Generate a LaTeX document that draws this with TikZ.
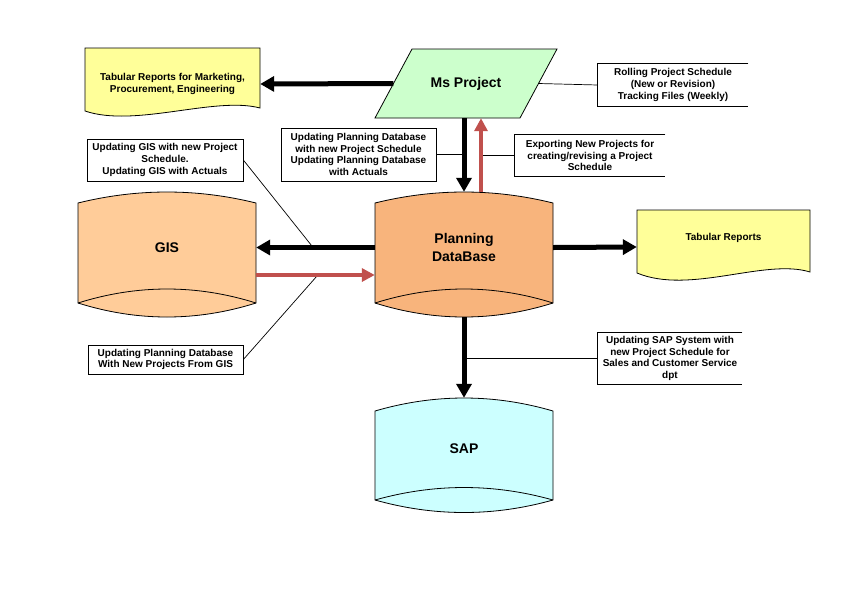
\documentclass[tikz,border=0pt]{standalone}
\usepackage{fontspec}
\setmainfont{Liberation Sans}
\usetikzlibrary{arrows.meta,calc}
\definecolor{gisfill}{HTML}{FFCC99}
\definecolor{pdbfill}{HTML}{F8B47C}
\definecolor{sapfill}{HTML}{CCFFFF}
\definecolor{docfill}{HTML}{FFFF99}
\definecolor{mspfill}{HTML}{CCFFCC}
\definecolor{redarrow}{HTML}{C0504D}
\newcommand\cylpath[7]{%
  \path[shapeline, fill=#7] (#1,#4) .. controls ({#1+(#2-#1)/3},{#4-4/3*(#4-#3)}) and ({#2-(#2-#1)/3},{#4-4/3*(#4-#3)}) .. (#2,#4)
    -- (#2,#5) .. controls ({#2-(#2-#1)/3},{#5+4/3*#6}) and ({#1+(#2-#1)/3},{#5+4/3*#6}) .. (#1,#5) -- cycle;
  \draw[shapeline] (#1,#5) .. controls ({#1+(#2-#1)/3},{#5-4/3*#6}) and ({#2-(#2-#1)/3},{#5-4/3*#6}) .. (#2,#5);
}
\begin{document}
\begin{tikzpicture}[x=1pt,y=-1pt,
  font=\bfseries\fontsize{10}{11.7}\selectfont,
  shapeline/.style={draw=black, line width=0.8pt},
  body/.style={draw=none, inner sep=0pt, align=center},
  bigtext/.style={font=\bfseries\fontsize{14}{18}\selectfont},
  callout/.style={inner sep=0pt, align=center, line width=0.7pt},
  leader/.style={line width=0.7pt},
  blackarrow/.style={draw=black, line width=5pt, -{Triangle[length=14pt,width=15pt]}},
  redarr/.style={draw=redarrow, line width=4pt, -{Triangle[length=13pt,width=13pt]}}]
\useasboundingbox[fill=white] (0,0) rectangle (842,595);

% shapes
\path[shapeline, fill=docfill] (85,48) -- (260,48) -- (260,108) .. controls (215,96) and (135,128) .. (85,111) -- cycle;
\path[shapeline, fill=mspfill] (412,49) -- (557,49) -- (520,118) -- (375,118) -- cycle;
\path[shapeline, fill=docfill] (637,210) -- (810,210) -- (810,272) .. controls (765,258) and (690,295) .. (637,273) -- cycle;
\cylpath{78}{256}{192}{203}{303}{14}{gisfill}
\cylpath{375}{553}{192}{203}{303}{14}{pdbfill}
\cylpath{375}{553}{398}{411}{500}{12.5}{sapfill}

% nodes
\node[body, minimum width=175pt, minimum height=72pt] (rep1) at (172.5,84) {Tabular Reports for Marketing,\\Procurement, Engineering};
\node[body, bigtext, minimum width=145pt, minimum height=69pt] (msp) at (466,83.5) {Ms Project};
\node[body, bigtext, minimum width=178pt, minimum height=111pt] (gis) at (167,247.5) {GIS};
\node[body, bigtext, minimum width=178pt, minimum height=111pt] (pdb) at (464,247.5) {Planning\\DataBase};
\node[body, bigtext, minimum width=178pt, minimum height=102pt] (sap) at (464,449) {SAP};
\node[body, minimum width=173pt, minimum height=74pt] (rep2) at (723.5,247) {};
\node[body] (rep2t) at (723.5,238) {Tabular Reports};

\node[callout, minimum width=150pt, minimum height=42pt] (c1) at (673,85) {Rolling Project Schedule\\(New or Revision)\\Tracking Files (Weekly)};
\node[callout, draw=black, minimum width=155pt, minimum height=53pt] (c2) at (358.5,154.5) {Updating Planning Database\\with new Project Schedule\\Updating Planning Database\\with Actuals};
\node[callout, minimum width=150pt, minimum height=41pt] (c3) at (590,155.5) {Exporting New Projects for\\creating/revising a Project\\Schedule};
\node[callout, draw=black, minimum width=156pt, minimum height=42pt] (c4) at (165,160) {Updating GIS with new Project\\Schedule.\\Updating GIS with Actuals};
\node[callout, draw=black, minimum width=155pt, minimum height=29pt] (c5) at (165.5,359.5) {Updating Planning Database\\With New Projects From GIS};
\node[callout, minimum width=144pt, minimum height=51pt] (c6) at (670,358.5) {Updating SAP System with\\new Project Schedule for\\Sales and Customer Service\\dpt};

% open-sided callout outlines
\draw[leader] (c1.north east) -- (c1.north west) -- (c1.south west) -- (c1.south east);
\draw[leader] (c3.north east) -- (c3.north west) -- (c3.south west) -- (c3.south east);
\draw[leader] (c6.north east) -- (c6.north west) -- (c6.south west) -- (c6.south east);

% leaders
\draw[leader] (msp.east) -- (c1.west);
\draw[leader] (c2.east) -- (c2.east -| pdb.north);
\draw[leader] ([xshift=17pt]pdb.north |- c3.west) -- (c3.west);
\draw[leader] (c4.east) -- ($(gis.east)!0.48!(pdb.west)$);
\draw[leader] (c5.east) -- ($([yshift=-27.5pt]gis.east)!0.52!([yshift=-27.5pt]pdb.west)$);
\draw[leader] (c6.west -| sap.north) -- (c6.west);

% arrows
\draw[blackarrow] (msp.west) -- (rep1.east);
\draw[blackarrow] (pdb.north |- msp.south) -- (pdb.north);
\draw[redarr] ([xshift=17pt]pdb.north) -- ([xshift=17pt]pdb.north |- msp.south);
\draw[blackarrow] (pdb.west) -- (gis.east);
\draw[redarr] ([yshift=-27.5pt]gis.east) -- ([yshift=-27.5pt]pdb.west);
\draw[blackarrow] (pdb.east) -- (rep2.west);
\draw[blackarrow] ([yshift=-14pt]pdb.south) -- (sap.north);
\end{tikzpicture}
\end{document}
